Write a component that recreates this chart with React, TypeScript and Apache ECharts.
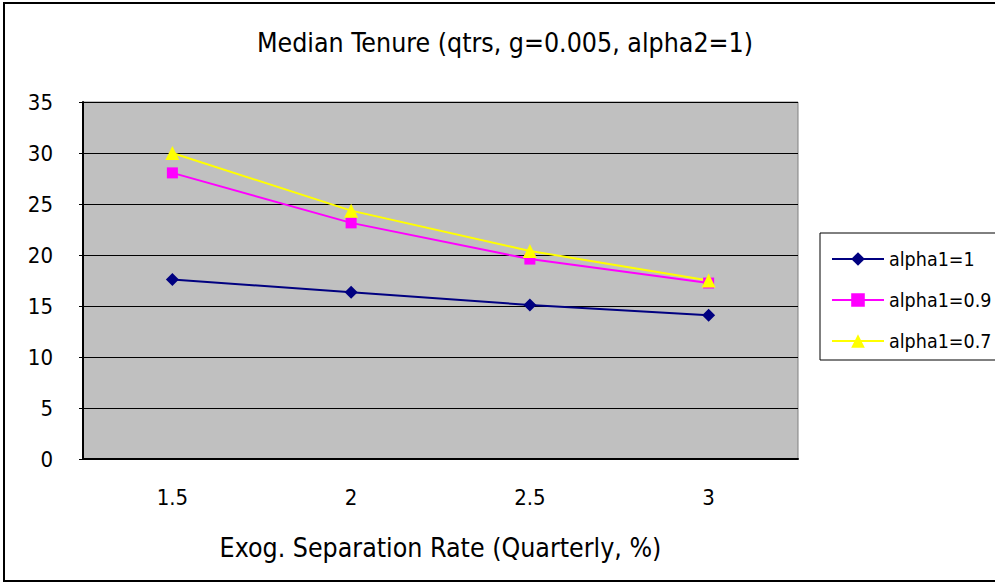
import React, { useEffect, useRef } from "react";
import * as echarts from "echarts";

const categories = ["1.5", "2", "2.5", "3"];
const seriesNames = ["alpha1=1", "alpha1=0.9", "alpha1=0.7"];
const alpha1_1 = [17.6, 16.35, 15.1, 14.1];
const alpha1_09 = [28.05, 23.15, 19.6, 17.25];
const alpha1_07 = [30.0, 24.35, 20.4, 17.5];
const yTicks = { min: 0, max: 35, interval: 5 };
const titleText = "Median Tenure (qtrs, g=0.005, alpha2=1)";
const xName = "Exog. Separation Rate (Quarterly, %)";

const FONT = "'DejaVu Sans Condensed', 'Liberation Sans Narrow', sans-serif";

export default function App() {
  const ref = useRef<HTMLDivElement>(null);
  useEffect(() => {
    if (!ref.current) return;
    const chart = echarts.init(ref.current, undefined, { renderer: "svg" });
    chart.setOption({
      animation: false,
      backgroundColor: "#ffffff",
      textStyle: { fontFamily: FONT, color: "#000" },
      graphic: [
        {
          type: "rect",
          shape: { x: 4, y: 3, width: 1100, height: 578 },
          style: { fill: "none", stroke: "#000", lineWidth: 2 },
          silent: true,
        },
        {
          type: "rect",
          shape: { x: 820, y: 233, width: 200, height: 127 },
          style: { fill: "none", stroke: "#000", lineWidth: 1 },
          silent: true,
        },
        {
          type: "text",
          x: 505,
          y: 42,
          style: {
            text: titleText,
            fontFamily: FONT,
            fontSize: 26.5,
            fill: "#000",
            textAlign: "center",
            textVerticalAlign: "middle",
          },
        },
      ],
      legend: {
        orient: "vertical",
        left: 831,
        top: 249,
        itemWidth: 52,
        itemHeight: 17,
        itemGap: 21,
        data: seriesNames,
        textStyle: { fontFamily: FONT, fontSize: 19.5, color: "#000", lineHeight: 17, padding: [0, 0, 0, 0] },
        padding: 0,
      },
      grid: {
        left: 83,
        top: 102,
        width: 715,
        height: 357,
        show: true,
        backgroundColor: "#c0c0c0",
        borderColor: "#808080",
        borderWidth: 1,
      },
      xAxis: {
        type: "category",
        data: categories,
        boundaryGap: true,
        name: xName,
        nameLocation: "middle",
        nameGap: 75,
        nameTextStyle: { fontFamily: FONT, fontSize: 26.5, color: "#000", verticalAlign: "top" },
        axisLine: { lineStyle: { color: "#000", width: 2 } },
        axisTick: { inside: true, length: 5, lineStyle: { color: "#000" } },
        axisLabel: { margin: 27, fontFamily: FONT, fontSize: 22, color: "#000" },
        splitLine: { show: false },
      },
      yAxis: {
        type: "value",
        min: yTicks.min,
        max: yTicks.max,
        interval: yTicks.interval,
        axisLine: { show: true, lineStyle: { color: "#000", width: 2 } },
        axisTick: { show: true, length: 4, lineStyle: { color: "#000" } },
        axisLabel: { margin: 30, fontFamily: FONT, fontSize: 22, color: "#000" },
        splitLine: { show: true, lineStyle: { color: "#000", width: 1 } },
      },
      series: [
        {
          name: seriesNames[0],
          type: "line",
          data: alpha1_1,
          symbol: "diamond",
          symbolSize: 13,
          itemStyle: { color: "#000080" },
          lineStyle: { color: "#000080", width: 2 },
        },
        {
          name: seriesNames[1],
          type: "line",
          data: alpha1_09,
          symbol: "rect",
          symbolSize: 11,
          itemStyle: { color: "#ff00ff" },
          lineStyle: { color: "#ff00ff", width: 2 },
        },
        {
          name: seriesNames[2],
          type: "line",
          data: alpha1_07,
          symbol: "triangle",
          symbolSize: 14,
          itemStyle: { color: "#ffff00" },
          lineStyle: { color: "#ffff00", width: 2 },
        },
      ],
    });
    return () => chart.dispose();
  }, []);
  return <div ref={ref} style={{ width: 995, height: 584, position: "absolute", left: 0, top: 0 }} />;
}
